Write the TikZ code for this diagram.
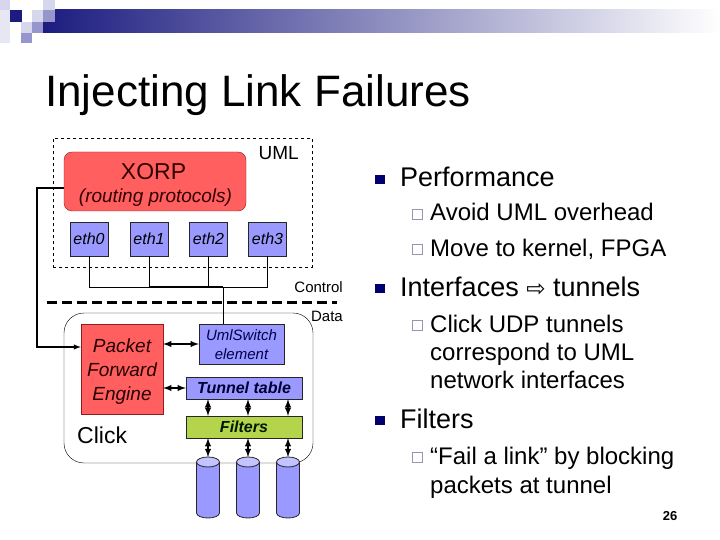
\documentclass[tikz,border=0pt]{standalone}
\usepackage{fontspec}
\setmainfont{Liberation Sans}
\newfontfamily\arrowfont{DejaVu Sans}
\usetikzlibrary{positioning,calc}
\tikzset{>=latex}
\newcommand\fsz[1]{\fontsize{#1}{#1}\selectfont}
\definecolor{barnavy}{RGB}{28,28,128}
\definecolor{barmid}{RGB}{168,168,192}
\definecolor{lightlav}{RGB}{214,214,236}
\definecolor{midlav}{RGB}{150,150,204}
\definecolor{xorpred}{RGB}{255,95,95}
\definecolor{darkred}{RGB}{140,30,30}
\definecolor{ethblue}{RGB}{153,153,255}
\definecolor{cyltop}{RGB}{195,195,255}
\definecolor{filtgreen}{RGB}{180,212,76}
\definecolor{bulletnavy}{RGB}{0,0,110}
\definecolor{subgrey}{RGB}{150,150,180}
\tikzset{
  redbox/.style={draw=darkred,fill=xorpred},
  bluebox/.style={draw=black!85,fill=ethblue,inner sep=0},
  ethbox/.style={bluebox,minimum width=38,minimum height=34,font=\fsz{16}\itshape},
  dblarrow/.style={<->,line width=1.8pt},
  mainbullet/.style={fill=bulletnavy,minimum size=9.5,inner sep=0},
  subbullet/.style={draw=subgrey,line width=1.3pt,minimum size=9.5,inner sep=0},
  bigtext/.style={anchor=base west,inner sep=0,font=\fsz{27}},
  subtext/.style={anchor=base west,inner sep=0,font=\fsz{24}},
  cylbody/.style={draw=black!85,fill=ethblue,line width=0.8pt},
  cylend/.style={draw=black!85,fill=cyltop,line width=0.8pt}
}

\begin{document}
\begin{tikzpicture}[x=1pt,y=-1pt]
\useasboundingbox (0,0) rectangle (720,540);
% header bar
\shade[left color=barnavy,middle color=barmid,right color=white] (43,10) rectangle (720,33);
\fill[lightlav] (0,0) rectangle (10,10);
\fill[lightlav!60] (0,10) rectangle (10,43);
\fill[barnavy] (10,10) rectangle (22,22);
\fill[lightlav] (32,10) rectangle (43,22);
\fill[lightlav] (43,0) rectangle (55,10);
\fill[midlav] (43,10) rectangle (55,22);
\fill[lightlav] (21,22) rectangle (32,33);
\fill[midlav] (32,22) rectangle (43,33);
\fill[midlav] (21,33) rectangle (32,43);
\node[anchor=base west,inner sep=0,font=\fsz{44}] (title) at (45,107) {Injecting Link Failures};

% UML part
\node[draw,dashed,minimum width=259,minimum height=129] (uml) at (182.5,202.5) {};
\node[anchor=north east,inner sep=0,font=\fsz{19}] (umllabel) at (299,146) {UML};
\node[redbox,rounded corners=8,minimum width=182,minimum height=59] (xorp) at (155,181.5) {};
\node[anchor=base,inner sep=0,font=\fsz{23},text=black!80!red] (xorptitle) at (153.5,180) {XORP};
\node[anchor=base,inner sep=0,font=\fsz{19}\itshape,text=black!80!red] (xorpsub) at (155.5,203) {(routing protocols)};
\node[ethbox] (eth0) at (89,239) {eth0};
\node[ethbox] (eth1) at (149,239) {eth1};
\node[ethbox] (eth2) at (208.5,239) {eth2};
\node[ethbox] (eth3) at (267.5,239) {eth3};

% control / data
\coordinate (bus) at (223,287);
\foreach \e in {eth0,eth1,eth2,eth3}
  \draw (\e.south) -- (\e.south |- bus);
\draw (eth0.south |- bus) -- (eth3.south |- bus);
\draw[line width=2pt] (eth1.south |- bus) -- (bus);
\node[anchor=base east,inner sep=0,font=\fsz{15}] (control) at (343,292) {Control};
\node[anchor=base east,inner sep=0,font=\fsz{15}] (data) at (343,321) {Data};
\coordinate (dl) at (47,302);
\coordinate (dr) at (337,302);
\draw[line width=3pt,dash pattern=on 10pt off 5pt] (dl) -- (dr);

% Click
\node[draw,rounded corners=20,minimum width=249,minimum height=150] (click) at (188.5,388) {};
\node[anchor=base west,inner sep=0,font=\fsz{23}] (clicklabel) at (77,443) {Click};
\node[redbox,minimum width=82,minimum height=90] (pfe) at (122,369) {};
\node[anchor=base,inner sep=0,font=\fsz{19}\itshape,text=black!85!red] at (122,352) {Packet};
\node[anchor=base,inner sep=0,font=\fsz{19}\itshape,text=black!85!red] at (122,376) {Forward};
\node[anchor=base,inner sep=0,font=\fsz{19}\itshape,text=black!85!red] at (122,400) {Engine};
\node[bluebox,minimum width=85,minimum height=40] (sw) at (241.5,344) {};
\node[anchor=base,inner sep=0,font=\fsz{15}\itshape,text=black!70!blue] (swtext) at (241.5,340) {UmlSwitch};
\node[anchor=base,inner sep=0,font=\fsz{15}\itshape,text=black!70!blue] (swtext2) at (241.5,359) {element};
\node[bluebox,minimum width=116,minimum height=22,font=\fsz{16}\bfseries\itshape,text=black!80!blue] (tt) at (244,388) {Tunnel table};
\node[bluebox,fill=filtgreen,minimum width=116,minimum height=22,font=\fsz{16}\bfseries\itshape,text=black!90!green] (filt) at (244,427) {Filters};
% tunnels (cylinders)
\foreach \n/\x in {cyl1/208,cyl2/248,cyl3/288} {
  \coordinate (\n) at (\x,457);
  \draw[cylbody] (\x-11.5,462) -- (\x-11.5,513) arc[start angle=180,end angle=0,x radius=11.5,y radius=5] -- (\x+11.5,462);
  \draw[cylend] (\x,462) ellipse[x radius=11.5,y radius=5];
}

\draw[->,line width=1.4pt] ([yshift=-6.5pt]xorp.west) -- ++(-27,0) |- ([yshift=22pt]pfe.west);
\draw (bus) -- (bus |- sw.north);
\draw[dblarrow] (sw.west -| pfe.east) -- (sw.west);
\draw[dblarrow] (tt.west -| pfe.east) -- (tt.west);
\foreach \c in {cyl1,cyl2,cyl3} {
  \draw[dblarrow] (\c |- tt.south) -- (\c |- filt.north);
  \draw[dblarrow] (\c |- filt.south) -- (\c);
}

% bullets
\node[mainbullet] (b1) at (380,179.5) {};
\node[bigtext] (perf) at (400,187) {Performance};
\node[subbullet] (s1) at (417.5,214.5) {};
\node[subtext] (avoid) at (430,221) {Avoid UML overhead};
\node[subbullet] (s2) at (417.5,249.5) {};
\node[subtext] (move) at (430,256) {Move to kernel, FPGA};
\node[mainbullet] (b2) at (380,288.5) {};
\node[bigtext] (intf) at (400,296) {Interfaces {\arrowfont\fsz{23}⇨} tunnels};
\node[subbullet] (s3) at (417.5,325.5) {};
\node[subtext] (udp) at (430,332) {Click UDP tunnels};
\node[subtext] (corr) at (430,360) {correspond to UML};
\node[subtext] (netw) at (430,388) {network interfaces};
\node[mainbullet] (b3) at (380,420.5) {};
\node[bigtext] (filters) at (400,428) {Filters};
\node[subbullet] (s4) at (417.5,457.5) {};
\node[subtext] (fail) at (430,464) {“Fail a link” by blocking};
\node[subtext] (pack) at (430,493) {packets at tunnel};
\node[font=\fsz{13}\bfseries,inner sep=0] (pagenum) at (670,516) {26};
\end{tikzpicture}
\end{document}
